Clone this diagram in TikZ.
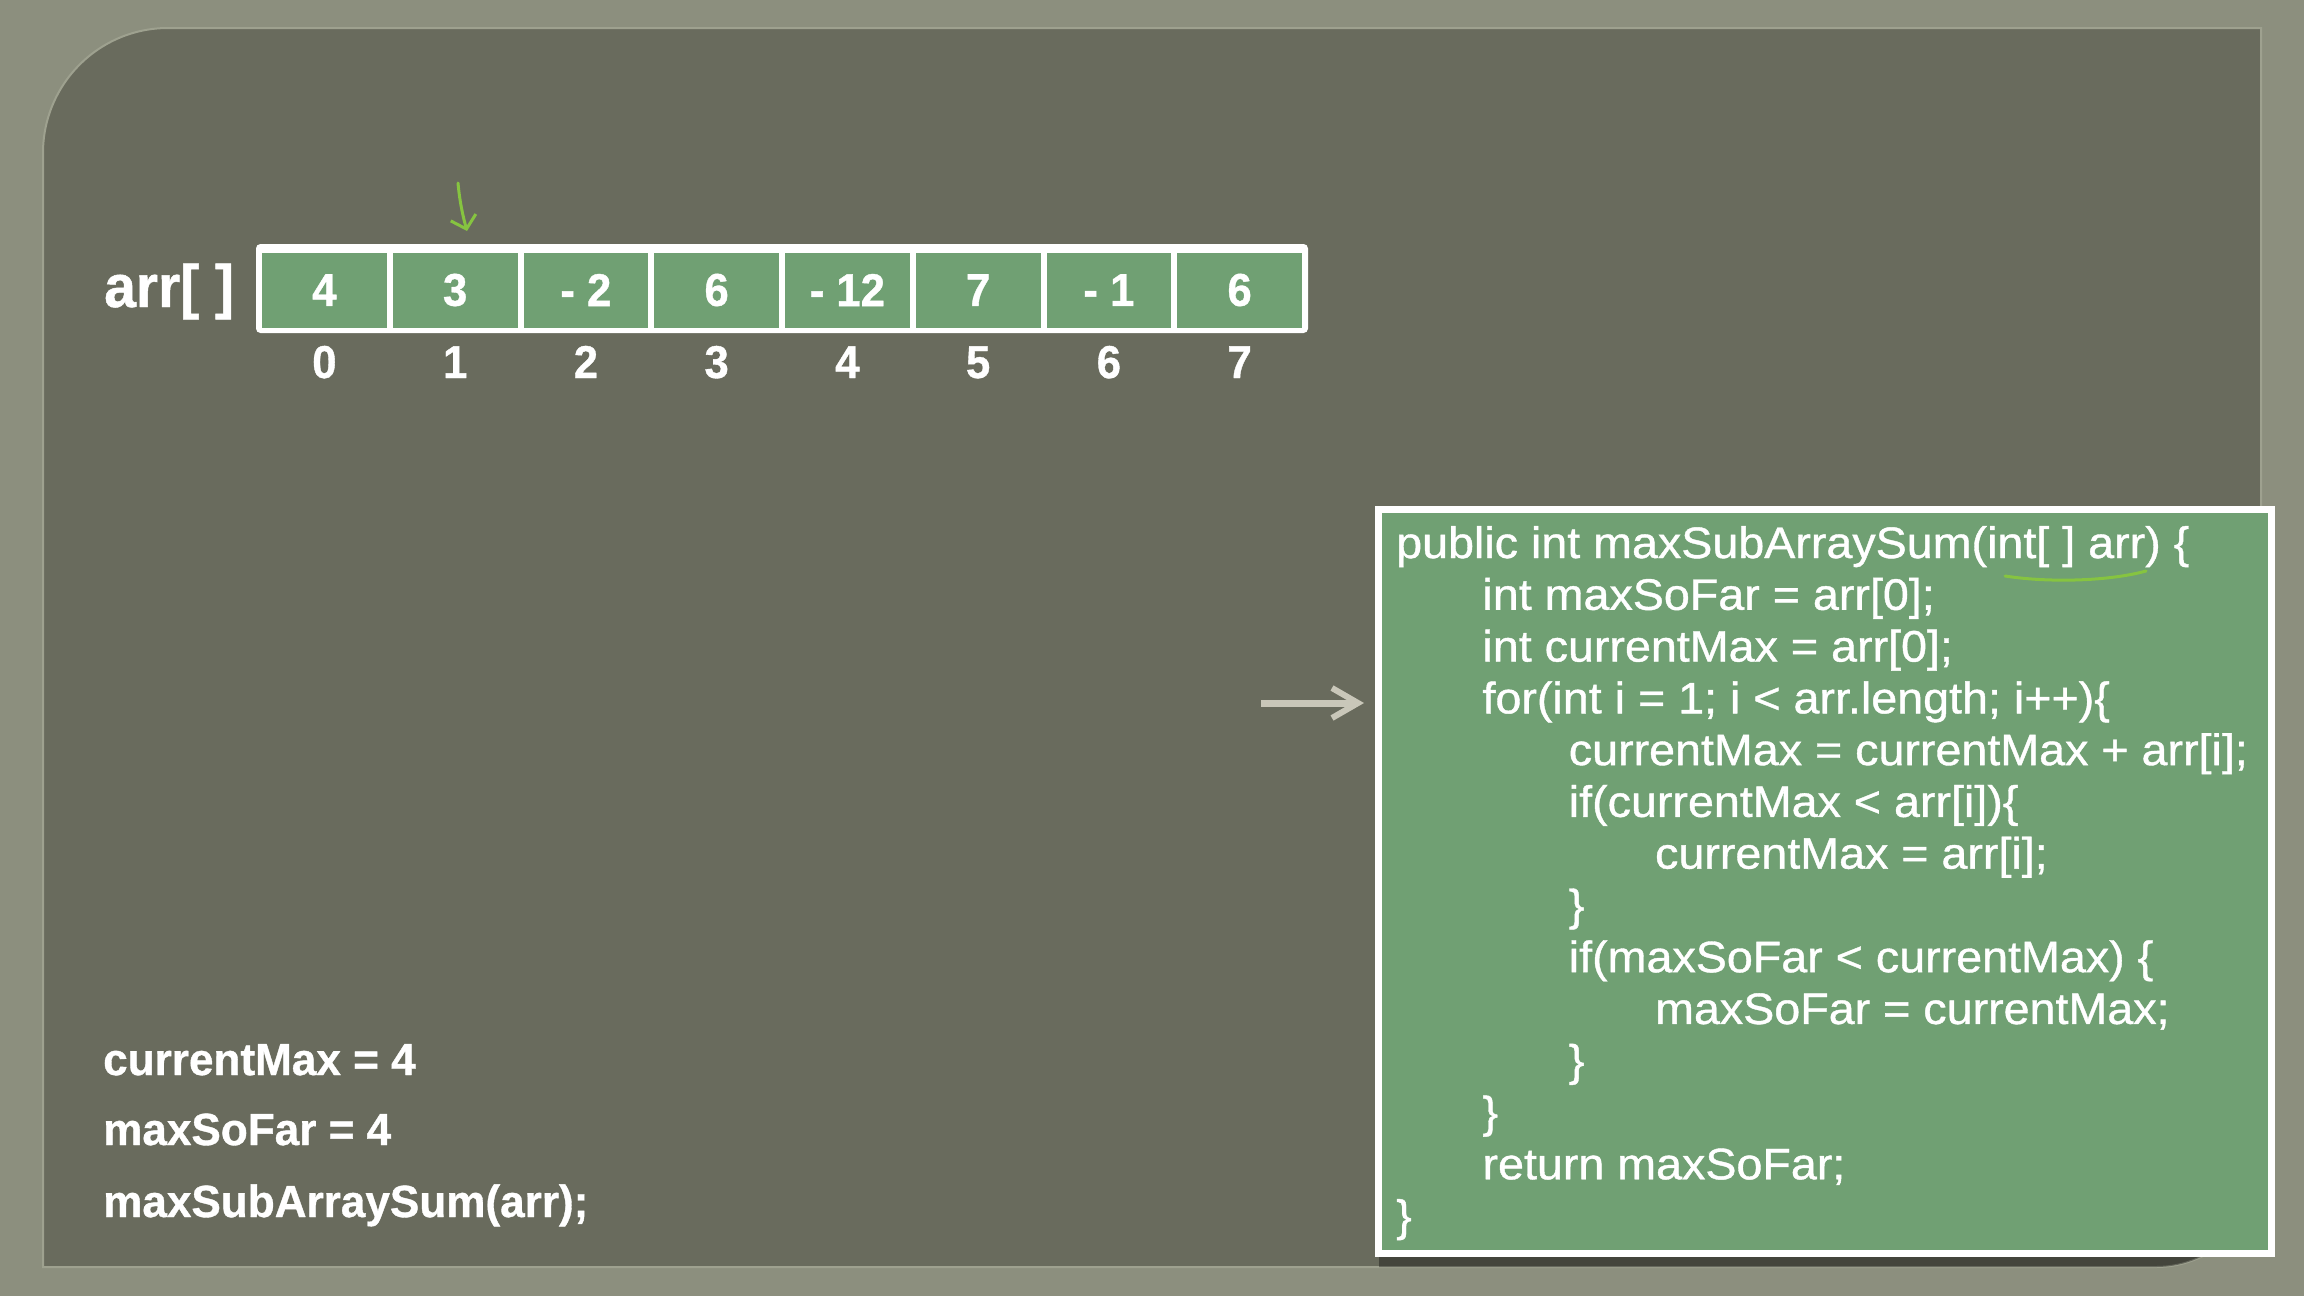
\documentclass[tikz,border=0pt]{standalone}
\usepackage{fontspec}
\setmainfont{Liberation Sans}
\newfontfamily\codefont[FakeStretch=1.06,FakeBold=0.9]{Liberation Sans}
\newfontfamily\numfont[FakeStretch=0.95,FakeBold=0.8]{Liberation Sans}
\newfontfamily\varfont[FakeStretch=0.98,FakeBold=0.8]{Liberation Sans}
\newfontfamily\arrfont[FakeStretch=0.95,FakeBold=0.8]{Liberation Sans}
\usetikzlibrary{arrows.meta}
\definecolor{outerbg}{HTML}{8C8F7E}
\definecolor{panelbg}{HTML}{696B5D}
\definecolor{panelrim}{HTML}{9EA18F}
\definecolor{cellgreen}{HTML}{70A073}
\definecolor{handgreen}{HTML}{86C440}
\definecolor{arrowgray}{HTML}{C9C7B9}
\begin{document}
\begin{tikzpicture}[x=1pt,y=-1pt,
  codeline/.style={anchor=base west, inner sep=0pt, text=white,
    font=\codefont\fontsize{44}{48}\selectfont},
  cell/.style={fill=cellgreen, minimum width=124.75pt, minimum height=75pt,
    inner sep=0pt, anchor=center, text=white,
    font=\numfont\bfseries\fontsize{46}{48}\selectfont},
  idx/.style={anchor=base, inner sep=0pt, text=white,
    font=\numfont\bfseries\fontsize{46}{48}\selectfont},
  varline/.style={anchor=base west, inner sep=0pt, text=white,
    font=\varfont\bfseries\fontsize{45}{48}\selectfont},
  frame/.style={draw=white, fill=white, line width=6pt, rounded corners=2pt,
    minimum width=1046pt, minimum height=83pt, inner sep=0pt},
  codebox/.style={draw=white, fill=cellgreen, line width=7pt,
    minimum width=893pt, minimum height=744pt, inner sep=0pt},
  hand/.style={draw=handgreen, line width=3pt, line cap=round, line join=round},
  grayarrow/.style={draw=arrowgray, line width=7pt,
    -{Straight Barb[length=26pt,width=30pt,line width=6pt]}}
]
\useasboundingbox (0,0) rectangle (2304,1296);
% background
\fill[outerbg] (0,0) rectangle (2304,1296);
% panel
\def\panelpath{(43,1267) -- (43,153) .. controls (43,84) and (99,28) .. (168,28)
  -- (2261,28) -- (2261,1162) .. controls (2261,1220) and (2214,1267) .. (2156,1267) -- cycle}
\fill[panelbg] \panelpath;
\draw[panelrim, line width=2pt] \panelpath;
% shadow of code box on panel
\begin{scope}
  \clip \panelpath;
  \fill[black, opacity=0.35] (1379,512) rectangle (2281,1268);
\end{scope}

% array
\node[frame] (frame) at (782,288.5) {};
\node[anchor=base west, inner sep=0pt, text=white,
  font=\arrfont\bfseries\fontsize{60}{64}\selectfont] (arrlabel) at (104,307) {arr[ ]};
\foreach \v [count=\i from 0] in {4,3,- 2,6,- 12,7,- 1,6} {
  \node[cell] (c\i) at ({324.4+130.75*\i},290) {\v};
  \node[idx] (i\i) at ({324.4+130.75*\i},378) {\i};
}
% hand-drawn green pointer
\coordinate (ha) at (458,183);
\coordinate (hb) at (467,231);
\draw[hand, -{Straight Barb[length=12pt,width=26pt]}] (ha) .. controls (460,205) and (464,220) .. (hb);

% code box
\node[codebox] (code) at (1825,881.5) {};
\foreach \t/\lev [count=\k from 0] in {
  {public int maxSubArraySum(int[ ] arr) \{}/0,
  {int maxSoFar = arr[0];}/1,
  {int currentMax = arr[0];}/1,
  {for(int i = 1; i < arr.length; i++)\{}/1,
  {currentMax = currentMax + arr[i];}/2,
  {if(currentMax < arr[i])\{}/2,
  {currentMax = arr[i];}/3,
  {\}}/2,
  {if(maxSoFar < currentMax) \{}/2,
  {maxSoFar = currentMax;}/3,
  {\}}/2,
  {\}}/1,
  {return maxSoFar;}/1,
  {\}}/0} {
  \node[codeline] (l\k) at ({1396+86.3*\lev},{558+51.77*\k}) {\t};
}
% underline under int[ ] arr
\coordinate (u1) at (2005,576);
\coordinate (u2) at (2146,571);
\draw[hand] (u1) .. controls (2050,583) and (2110,581) .. (u2);

% gray pointer arrow
\coordinate (ga) at (1261,703);
\coordinate (gb) at (1364,703);
\draw[grayarrow] (ga) -- (gb);

% variable state
\node[varline] (v1) at (103,1075) {currentMax = 4};
\node[varline] (v2) at (103,1145) {maxSoFar = 4};
\node[varline] (v3) at (103,1217) {maxSubArraySum(arr);};
\end{tikzpicture}
\end{document}
